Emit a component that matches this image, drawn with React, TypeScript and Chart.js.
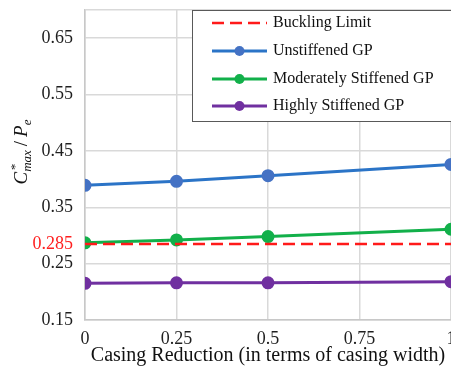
import React, { useEffect, useRef } from "react";
import { Chart, registerables } from "chart.js";

Chart.register(...registerables);

const xValues = [0, 0.25, 0.5, 1];
const unstiffened = [0.389, 0.396, 0.406, 0.426];
const moderately = [0.287, 0.292, 0.298, 0.311];
const highly = [0.215, 0.216, 0.216, 0.218];
const bucklingX = [0, 1];
const bucklingLimit = 0.285;
const xTicks = [0, 0.25, 0.5, 0.75, 1];
const yTicks = [0.15, 0.25, 0.35, 0.45, 0.55, 0.65];
const yMin = 0.15;
const yMax = 0.7;
const seriesNames = ["Buckling Limit", "Unstiffened GP", "Moderately Stiffened GP", "Highly Stiffened GP"];
const xTitle = "Casing Reduction (in terms of casing width)";

const FONT = "'Liberation Serif', 'DejaVu Serif', serif";

const legendPlugin = {
  id: "boxLegend",
  afterDraw(chart: any) {
    const ctx = chart.ctx;
    ctx.save();
    const bx = 192, by = 10, bw = 300, bh = 111;
    ctx.fillStyle = "#ffffff";
    ctx.fillRect(bx, by, bw, bh);
    ctx.strokeStyle = "#595959";
    ctx.lineWidth = 1;
    ctx.strokeRect(bx + 0.5, by + 0.5, bw, bh);
    const rows = [23, 51, 79, 106];
    chart.data.datasets.forEach((ds: any, i: number) => {
      const y = rows[i];
      ctx.strokeStyle = ds.borderColor;
      ctx.lineWidth = ds.borderWidth;
      ctx.setLineDash(ds.borderDash || []);
      ctx.beginPath();
      ctx.moveTo(212, y);
      ctx.lineTo(267, y);
      ctx.stroke();
      ctx.setLineDash([]);
      if (ds.pointRadius > 0) {
        ctx.fillStyle = ds.pointBackgroundColor;
        ctx.beginPath();
        ctx.arc(239.5, y, ds.pointRadius, 0, Math.PI * 2);
        ctx.fill();
      }
      ctx.fillStyle = "#111111";
      ctx.font = `16px ${FONT}`;
      ctx.textBaseline = "middle";
      ctx.textAlign = "left";
      ctx.fillText(ds.label, 273, y);
    });
    ctx.restore();
  },
};

const yTitlePlugin = {
  id: "yTitle",
  afterDraw(chart: any) {
    const ctx = chart.ctx;
    ctx.save();
    ctx.translate(21, 152);
    ctx.rotate(-Math.PI / 2);
    ctx.fillStyle = "#111111";
    ctx.textBaseline = "alphabetic";
    ctx.textAlign = "left";
    const big = `italic 19px ${FONT}`;
    const small = `italic 13px ${FONT}`;
    const norm = `19px ${FONT}`;
    ctx.font = big;
    const wC = ctx.measureText("C").width;
    ctx.font = small;
    const wMax = ctx.measureText("max").width;
    const wStar = ctx.measureText("*").width;
    ctx.font = norm;
    const wSlash = ctx.measureText("/").width;
    ctx.font = big;
    const wP = ctx.measureText("P").width;
    ctx.font = small;
    const wE = ctx.measureText("e").width;
    const gap = 4;
    const total = wC + Math.max(wMax, wStar) + gap + wSlash + gap + wP + wE;
    let x = -total / 2;
    const base = 6;
    ctx.font = big;
    ctx.fillText("C", x, base);
    x += wC;
    ctx.font = small;
    ctx.fillText("*", x + 1, base - 8);
    ctx.fillText("max", x, base + 4);
    x += Math.max(wMax, wStar) + gap;
    ctx.font = norm;
    ctx.fillText("/", x, base);
    x += wSlash + gap;
    ctx.font = big;
    ctx.fillText("P", x, base);
    x += wP;
    ctx.font = small;
    ctx.fillText("e", x, base + 4);
    ctx.restore();
  },
};

export default function App() {
  const ref = useRef<HTMLCanvasElement>(null);
  useEffect(() => {
    if (!ref.current) return;
    const pts = (ys: number[]) => xValues.map((x, i) => ({ x, y: ys[i] }));
    const chart = new Chart(ref.current, {
      type: "line",
      data: {
        datasets: [
          {
            label: seriesNames[0],
            data: bucklingX.map((x) => ({ x, y: bucklingLimit })),
            borderColor: "#ff1a1a",
            borderWidth: 2.5,
            borderDash: [12, 6],
            pointRadius: 0,
            pointBackgroundColor: "#ff1a1a",
          },
          {
            label: seriesNames[1],
            data: pts(unstiffened),
            borderColor: "#2b74c7",
            borderWidth: 3,
            pointRadius: 5,
            pointBackgroundColor: "#4472c4",
            pointBorderColor: "#4472c4",
          },
          {
            label: seriesNames[2],
            data: pts(moderately),
            borderColor: "#12b04a",
            borderWidth: 3,
            pointRadius: 5,
            pointBackgroundColor: "#12b04a",
            pointBorderColor: "#12b04a",
          },
          {
            label: seriesNames[3],
            data: pts(highly),
            borderColor: "#7030a0",
            borderWidth: 3,
            pointRadius: 5,
            pointBackgroundColor: "#7030a0",
            pointBorderColor: "#7030a0",
          },
        ] as any,
      },
      options: {
        animation: false,
        responsive: false,
        layout: { autoPadding: false, padding: { left: 0, top: 10, right: -2, bottom: 0 } },
        plugins: { legend: { display: false }, tooltip: { enabled: false } },
        scales: {
          x: {
            type: "linear",
            min: 0,
            max: 1,
            afterBuildTicks: (scale: any) => {
              scale.ticks = xTicks.map((value) => ({ value }));
            },
            afterFit: (scale: any) => {
              scale.height = 52;
              scale.paddingLeft = 0;
              scale.paddingRight = 0;
            },
            ticks: {
              autoSkip: false,
              maxRotation: 0,
              padding: 8,
              color: "#1f1f1f",
              font: { family: FONT, size: 18 },
              callback: (v: any) => String(v),
            },
            grid: { color: "#d9d9d9", lineWidth: 1.5, drawTicks: false },
            border: { color: "#c8c8c8", width: 1.5 },
            title: {
              display: true,
              text: xTitle,
              color: "#111111",
              font: { family: FONT, size: 20 },
              padding: { top: 0, bottom: 4 },
            },
          },
          y: {
            type: "linear",
            min: yMin,
            max: yMax,
            afterBuildTicks: (scale: any) => {
              scale.ticks = [...yTicks, bucklingLimit, yMax]
                .sort((a, b) => a - b)
                .map((value) => ({ value }));
            },
            afterFit: (scale: any) => {
              scale.width = 85;
              scale.paddingTop = 0;
              scale.paddingBottom = 0;
            },
            ticks: {
              autoSkip: false,
              padding: 12,
              font: { family: FONT, size: 18 },
              color: (c: any) => (c.tick && c.tick.value === bucklingLimit ? "#ff2020" : "#1f1f1f"),
              callback: (v: any) => (v === yMax ? "" : String(v)),
            },
            grid: {
              color: (c: any) =>
                c.tick && c.tick.value === bucklingLimit ? "rgba(0,0,0,0)" : "#d9d9d9",
              lineWidth: 1.5,
              drawTicks: false,
            },
            border: { color: "#c8c8c8", width: 1.5 },
          },
        },
      },
      plugins: [legendPlugin, yTitlePlugin],
    } as any);
    return () => chart.destroy();
  }, []);
  return (
    <div style={{ position: "fixed", left: 0, top: 0, width: 451, height: 372, background: "#fff" }}>
      <canvas ref={ref} width={451} height={372} style={{ display: "block" }} />
    </div>
  );
}
